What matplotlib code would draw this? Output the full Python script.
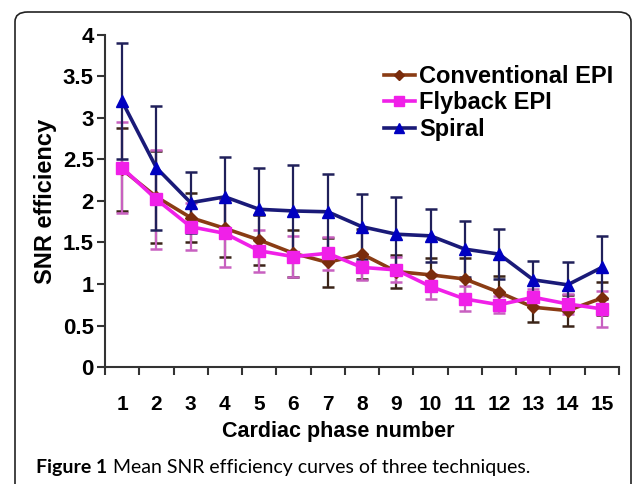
"""Mean SNR efficiency curves of three techniques."""

import matplotlib

matplotlib.use("Agg")
import matplotlib.pyplot as plt
from matplotlib.patches import FancyBboxPatch
from matplotlib.ticker import FixedLocator

phases = list(range(1, 16))

conventional = [2.38, 2.05, 1.80, 1.67, 1.53, 1.37, 1.26, 1.36, 1.15, 1.11, 1.06, 0.90, 0.72, 0.68, 0.83]
conventional_err = [0.50, 0.55, 0.30, 0.35, 0.30, 0.28, 0.30, 0.30, 0.20, 0.20, 0.25, 0.20, 0.18, 0.19, 0.20]

flyback = [2.40, 2.02, 1.69, 1.61, 1.40, 1.33, 1.37, 1.20, 1.17, 0.97, 0.82, 0.75, 0.84, 0.76, 0.70]
flyback_err = [0.55, 0.60, 0.28, 0.40, 0.25, 0.25, 0.20, 0.15, 0.15, 0.15, 0.15, 0.10, 0.10, 0.12, 0.22]

spiral = [3.20, 2.40, 1.98, 2.05, 1.90, 1.88, 1.87, 1.69, 1.60, 1.58, 1.42, 1.36, 1.05, 0.99, 1.20]
spiral_err = [0.70, 0.75, 0.37, 0.48, 0.50, 0.55, 0.45, 0.39, 0.45, 0.32, 0.34, 0.30, 0.23, 0.28, 0.38]

y_ticks = [0, 0.5, 1, 1.5, 2, 2.5, 3, 3.5, 4]
y_tick_labels = ["0", "0.5", "1", "1.5", "2", "2.5", "3", "3.5", "4"]

W, H = 633, 484
fig = plt.figure(figsize=(W / 100, H / 100), dpi=100)
fig.patch.set_facecolor("white")

# rounded frame around figure + caption
frame = FancyBboxPatch(
    (15 / W, 1 - 700 / H), (631 - 15) / W, (700 - 12) / H,
    boxstyle="round,pad=0,rounding_size=0.02",
    transform=fig.transFigure, facecolor="none", edgecolor="#222222",
    linewidth=1.2, clip_on=False,
)
fig.patches.append(frame)

ax = fig.add_axes([105 / W, 1 - 367 / H, (619 - 105) / W, (367 - 35) / H])

series = [
    ("Conventional EPI", conventional, conventional_err, "#8a3c14", "#3a2418", "D", 6),
    ("Flyback EPI", flyback, flyback_err, "#f020e8", "#c860c0", "s", 9),
    ("Spiral", spiral, spiral_err, "#1a1a78", "#20205a", "^", 9),
]

for label, values, errs, color, ecolor, marker, msize in series:
    ax.errorbar(phases, values, yerr=errs, fmt="none", ecolor=ecolor,
                elinewidth=1.6, capsize=4, capthick=1.8, zorder=2)

for label, values, errs, color, ecolor, marker, msize in series:
    mfc = "#0000c0" if marker == "^" else ("#7a2c0c" if marker == "D" else color)
    ax.plot(phases, values, color=color, linewidth=2.6, marker=marker,
            markersize=msize, markerfacecolor=mfc, markeredgecolor=mfc,
            label=label, zorder=3)

ax.set_xlim(0.5, 15.5)
ax.set_ylim(0, 4)

ax.spines["top"].set_visible(False)
ax.spines["right"].set_visible(False)
for side in ("left", "bottom"):
    ax.spines[side].set_linewidth(1.5)
    ax.spines[side].set_color("#333333")

ax.set_yticks(y_ticks)
ax.set_yticklabels(y_tick_labels, fontsize=16, fontweight="bold", family="Liberation Sans")
ax.tick_params(axis="y", direction="out", length=6, width=1.5, color="#333333", pad=2)

ax.xaxis.set_major_locator(FixedLocator([p - 0.5 for p in phases] + [15.5]))
ax.xaxis.set_minor_locator(FixedLocator(phases))
ax.set_xticklabels([])
ax.set_xticklabels([str(p) for p in phases], minor=True,
                   fontsize=15, fontweight="bold", family="Liberation Sans")
ax.tick_params(axis="x", which="major", direction="out", length=6, width=1.5, color="#333333")
ax.tick_params(axis="x", which="minor", length=0, pad=20)

ax.set_xlabel("Cardiac phase number", fontsize=15.5, fontweight="bold",
              family="Liberation Sans")
ax.xaxis.set_label_coords((338 - 105) / (619 - 105), -0.163)
ax.set_ylabel("SNR efficiency", fontsize=17, fontweight="bold",
              family="Liberation Sans", labelpad=4)

ax.legend(loc="upper left", bbox_to_anchor=(372 / W, 1 - 53 / H),
          bbox_transform=fig.transFigure, frameon=False,
          prop={"family": "Liberation Sans", "weight": "bold", "size": 17},
          handlelength=1.3, handletextpad=0.2, labelspacing=0.15, borderpad=0,
          markerscale=0.8)

caption_font = ["Lato", "Open Sans"]
cap_bold = fig.text(36 / W, 1 - 467 / H, "Figure 1", fontsize=14, fontweight="bold",
                    family=caption_font, va="center", ha="left")
fig.canvas.draw()
bb = cap_bold.get_window_extent()
fig.text((bb.x1 + 6) / W, 1 - 467 / H, "Mean SNR efficiency curves of three techniques.",
         fontsize=14, family=caption_font, va="center", ha="left")

fig.savefig("out.png", dpi=100)
